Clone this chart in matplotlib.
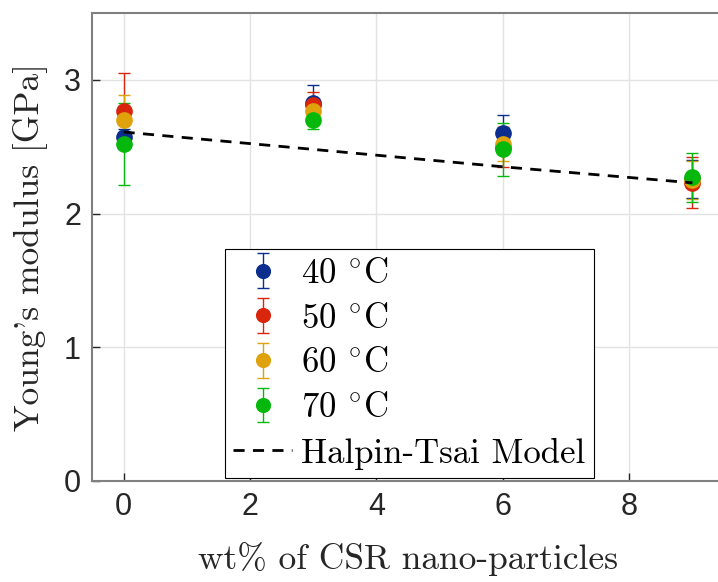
import numpy as np
import matplotlib
matplotlib.use("Agg")
import matplotlib.pyplot as plt

# wt% of CSR and measured moduli (GPa) with error bars
wt = [0, 3, 6, 9]
temps = ["40", "50", "60", "70"]
E_mean = {
    "40": [2.57, 2.83, 2.60, 2.26],
    "50": [2.77, 2.81, 2.50, 2.23],
    "60": [2.70, 2.77, 2.52, 2.25],
    "70": [2.52, 2.70, 2.48, 2.27],
}
E_err = {
    "40": [0.06, 0.13, 0.14, 0.14],
    "50": [0.28, 0.10, 0.15, 0.19],
    "60": [0.19, 0.07, 0.13, 0.14],
    "70": [0.31, 0.07, 0.20, 0.18],
}
ht_x = [0, 3, 6, 9]
ht_y = [2.61, 2.48, 2.35, 2.23]

colors = {"40": "#0b2d8e", "50": "#d8250b", "60": "#e0a20c", "70": "#06b80c"}

plt.rcParams["mathtext.fontset"] = "cm"

fig = plt.figure(figsize=(7.18, 5.82), dpi=100)
ax = fig.add_axes([92 / 718, 101 / 582, 632 / 718, 468 / 582])

handles = []
for t in temps:
    h = ax.errorbar(wt, E_mean[t], yerr=E_err[t], fmt="o", color=colors[t],
                    markersize=11, capsize=4.5, elinewidth=1, capthick=1,
                    label=t + r" $^{\circ}$C")
    handles.append(h)
line, = ax.plot(ht_x, ht_y, "k--", lw=2, dashes=(4, 3), zorder=10,
                label="Halpin-Tsai Model")
handles.append(line)

ax.set_xlim(-0.5, 9.5)
ax.set_ylim(0, 3.5)
ax.set_xticks([0, 2, 4, 6, 8])
ax.set_yticks([0, 1, 2, 3])
ax.grid(True, color="#e3e3e3", lw=1)
ax.set_axisbelow(True)
ax.tick_params(direction="in", length=6, width=1, labelsize=22, color="#262626",
               labelcolor="#262626", pad=8)
for lab in ax.get_xticklabels() + ax.get_yticklabels():
    lab.set_family("Liberation Sans")
for s in ax.spines.values():
    s.set_color("#808080")
    s.set_linewidth(1.5)

ax.set_xlabel("wt% of CSR nano-particles", family="cmr10", fontsize=25.5,
              color="#262626", labelpad=14)
ax.set_ylabel("Young's modulus [GPa]", family="cmr10", fontsize=25.5,
              color="#262626", labelpad=11)

leg = ax.legend(handles=handles, loc="lower left", bbox_to_anchor=(0.21, 0.006),
                borderaxespad=0, prop={"family": "cmr10", "size": 25},
                fancybox=False, edgecolor="black", framealpha=1,
                handlelength=1.7, handletextpad=0.25, labelspacing=0.38,
                borderpad=0.25, markerscale=0.9)
leg.get_frame().set_linewidth(0.8)

fig.savefig("out.png", dpi=100)
